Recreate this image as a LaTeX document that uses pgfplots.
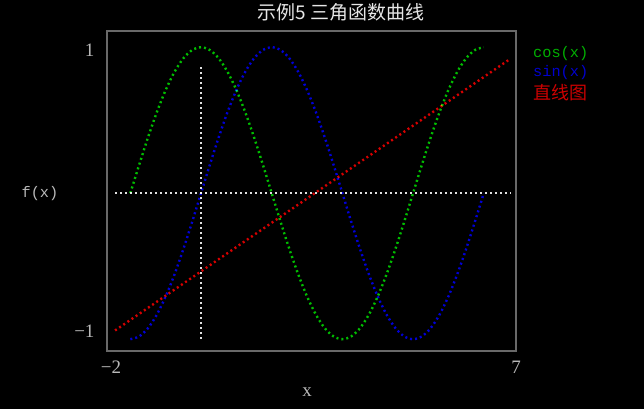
\documentclass[border=0pt]{standalone}
\usepackage{pgfplots}
\pgfplotsset{compat=1.18}
\usepackage{pgfplotstable}
\usepackage{fontspec}
\setmainfont{Liberation Serif}
\newfontfamily\monofont{Liberation Mono}
\newfontfamily\cjk{Noto Sans CJK SC}
\definecolor{cgreen}{RGB}{0,190,0}
\definecolor{cblue}{RGB}{0,0,215}
\definecolor{cred}{RGB}{215,0,0}
\definecolor{dotwhite}{RGB}{225,225,225}
\definecolor{axisgray}{RGB}{105,105,105}
\definecolor{tickgray}{RGB}{185,185,185}
\definecolor{titlegray}{RGB}{230,230,230}
\definecolor{lgreen}{RGB}{0,175,0}
\definecolor{lblue}{RGB}{0,0,205}
\definecolor{lred}{RGB}{205,0,0}

\pgfplotstableread{
x cos sin
-1.5708 0 -1
-1.3744 0.1951 -0.9808
-1.1781 0.3827 -0.9239
-0.9817 0.5556 -0.8315
-0.7854 0.7071 -0.7071
-0.5890 0.8315 -0.5556
-0.3927 0.9239 -0.3827
-0.1963 0.9808 -0.1951
0 1 0
0.1963 0.9808 0.1951
0.3927 0.9239 0.3827
0.5890 0.8315 0.5556
0.7854 0.7071 0.7071
0.9817 0.5556 0.8315
1.1781 0.3827 0.9239
1.3744 0.1951 0.9808
1.5708 0 1
1.7671 -0.1951 0.9808
1.9635 -0.3827 0.9239
2.1598 -0.5556 0.8315
2.3562 -0.7071 0.7071
2.5525 -0.8315 0.5556
2.7489 -0.9239 0.3827
2.9452 -0.9808 0.1951
3.1416 -1 0
3.3379 -0.9808 -0.1951
3.5343 -0.9239 -0.3827
3.7306 -0.8315 -0.5556
3.9270 -0.7071 -0.7071
4.1233 -0.5556 -0.8315
4.3197 -0.3827 -0.9239
4.5160 -0.1951 -0.9808
4.7124 0 -1
4.9087 0.1951 -0.9808
5.1051 0.3827 -0.9239
5.3014 0.5556 -0.8315
5.4978 0.7071 -0.7071
5.6941 0.8315 -0.5556
5.8905 0.9239 -0.3827
6.0868 0.9808 -0.1951
6.2832 1 0
}\trig

\pgfplotstableread{
x y
-1.91 -0.94
6.87 0.92
}\linedata

\begin{document}
\begin{tikzpicture}
\fill[black] (0,0) rectangle (644bp,409bp);
\begin{axis}[
  at={(107bp,58bp)}, anchor=south west,
  scale only axis, width=409bp, height=320bp,
  xmin=-2.09, xmax=7, ymin=-1.082, ymax=1.11,
  xtick={-2,7}, xticklabels={−2,7},
  ytick={-0.945,0.98}, yticklabels={−1,1},
  major tick length=0,
  axis line style={draw=axisgray, line width=1.5bp},
  ticklabel style={font=\fontsize{19bp}{22bp}\selectfont, text=tickgray},
  xticklabel style={yshift=-6bp},
  yticklabel style={xshift=-9bp},
  every axis plot/.append style={line width=2.4bp, line cap=butt, dash pattern=on 2bp off 3bp, blend mode=screen},
]
\addplot[dotwhite] coordinates {(-1.91,0) (6.87,0)};
\addplot[dotwhite] coordinates {(0,-1) (0,0.88)};
\addplot[cgreen, smooth] table[x=x, y=cos] {\trig};
\addplot[cblue, smooth] table[x=x, y=sin] {\trig};
\addplot[cred] table[x=x, y=y] {\linedata};
\end{axis}
\node[text=titlegray, font=\cjk\fontsize{19bp}{22bp}\selectfont] at (341bp,397bp) {示例5 三角函数曲线};
\node[text=tickgray, font=\monofont\fontsize{15.3bp}{18bp}\selectfont] at (40bp,216bp) {f(x)};
\node[text=tickgray, font=\fontsize{19bp}{22bp}\selectfont] at (307bp,17bp) {x};
\node[anchor=west, inner sep=0pt, text=lgreen, font=\monofont\fontsize{15.3bp}{18bp}\selectfont] at (533bp,356bp) {cos(x)};
\node[anchor=west, inner sep=0pt, text=lblue, font=\monofont\fontsize{15.3bp}{18bp}\selectfont] at (533bp,337bp) {sin(x)};
\node[anchor=west, inner sep=0pt, text=lred, font=\cjk\fontsize{18bp}{20bp}\selectfont] at (533bp,317bp) {直线图};
\end{tikzpicture}
\end{document}
